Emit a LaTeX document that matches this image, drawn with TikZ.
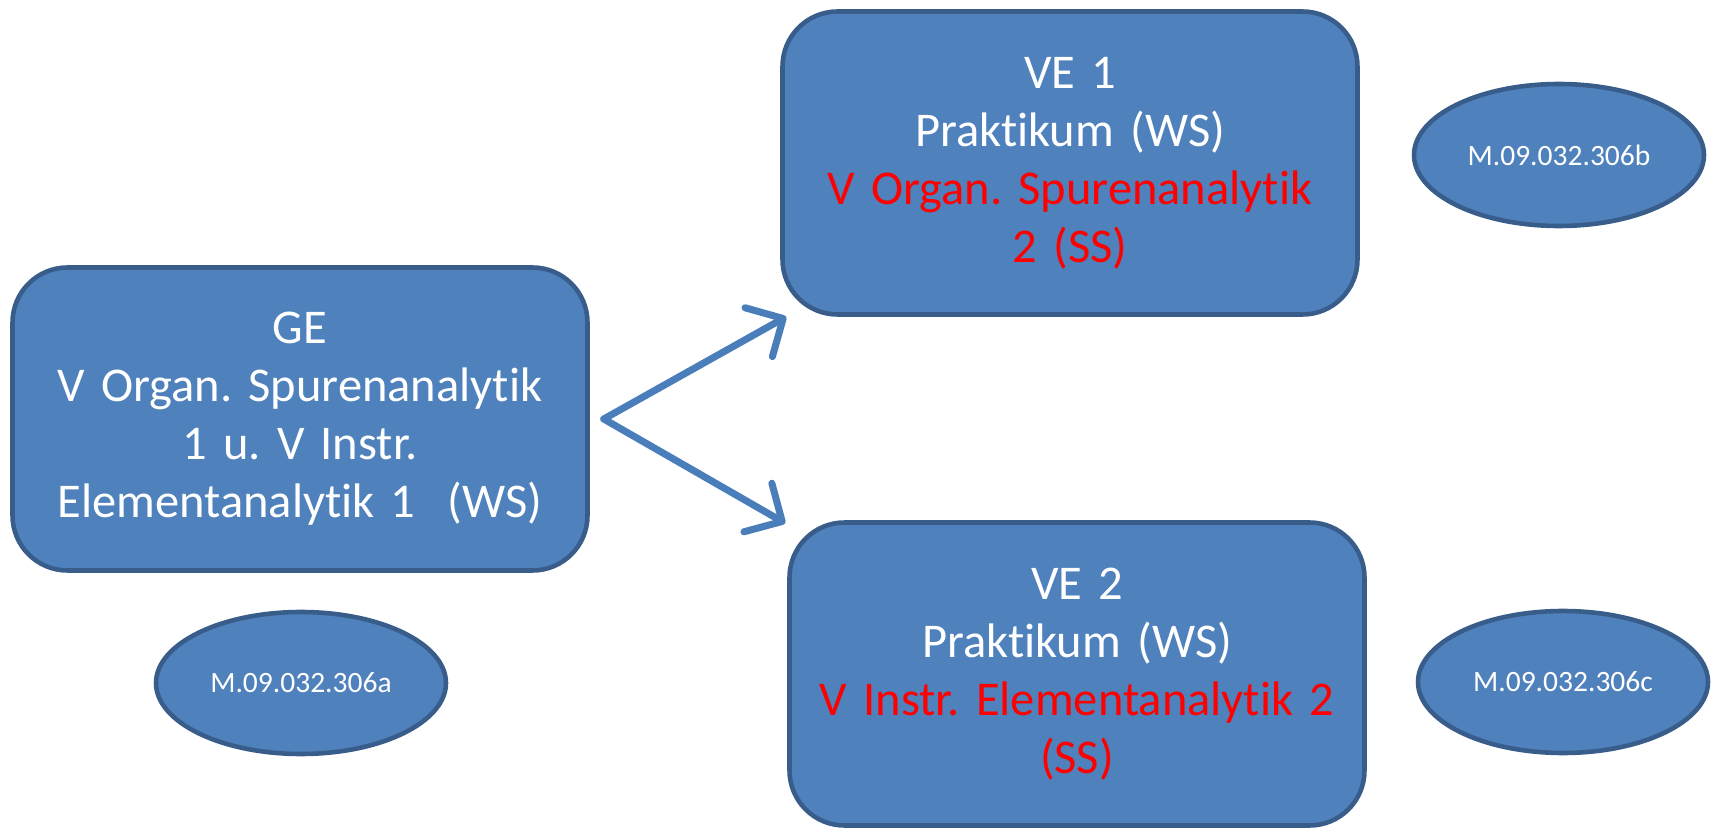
\documentclass[tikz,border=0pt]{standalone}
\usepackage{fontspec}
\setmainfont[Ligatures=NoCommon,WordSpace=0.8]{Carlito}
\usetikzlibrary{shapes.geometric,arrows.meta}
\definecolor{boxfill}{HTML}{4F81BD}
\definecolor{boxline}{HTML}{385D8A}
\definecolor{arrowblue}{HTML}{4A7EBB}
\frenchspacing
\begin{document}
\begin{tikzpicture}
      [modul/.style={draw=boxline, fill=boxfill, line width=1.3pt,
        rounded corners=5.5mm, minimum width=5.75cm, minimum height=3.03cm,
        text width=5.4cm, align=center, text=white,
        font=\fontsize{13.8}{16.5}\selectfont},
      nummer/.style={ellipse, draw=boxline, fill=boxfill, line width=1.3pt,
        minimum width=2.9cm, minimum height=1.42cm, inner sep=0pt,
        text=white, font=\fontsize{8.4}{10}\selectfont},
      pfeil/.style={draw=arrowblue, line width=2pt, line cap=round,
        -{Straight Barb[length=2.8mm, width=5.6mm, line width=2pt, round]}}]
      \useasboundingbox (0,0) rectangle (17.14,8.28);
      \node[modul] (ge) at (3.00,4.09) {GE\\V Organ. Spurenanalytik\\1 u. V Instr.\\Elementanalytik 1\ \ (WS)};
      \node[modul] (ve1) at (10.70,6.65) {VE 1\\Praktikum (WS)\\
        \textcolor{red}{V Organ. Spurenanalytik}\\\textcolor{red}{2 (SS)}};
      \node[modul] (ve2) at (10.77,1.54) {VE 2\\Praktikum (WS)\\
        \textcolor{red}{V Instr. Elementanalytik 2}\\\textcolor{red}{(SS)}};
      \node[nummer] (nra) at (3.01,1.45) {M.09.032.306a};
      \node[nummer] (nrb) at (15.59,6.73) {M.09.032.306b};
      \node[nummer] (nrc) at (15.63,1.46) {M.09.032.306c};
      % Verzweigung
      \coordinate (fork) at ([xshift=1.4mm]ge.east);
      \draw[pfeil] (fork) -- ([shift={(0.06,0)}]ve1.south west);
      \draw[pfeil] (fork) -- ([shift={(-0.02,-0.03)}]ve2.north west);
    \end{tikzpicture}
\end{document}
